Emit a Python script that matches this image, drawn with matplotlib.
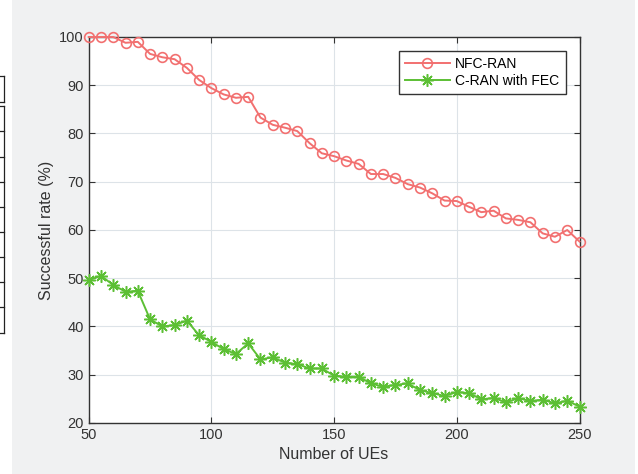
import matplotlib.pyplot as plt
from matplotlib.lines import Line2D

plt.rcParams['font.family'] = ['Liberation Sans', 'DejaVu Sans']

ues = list(range(50, 251, 5))
nfc_ran = [100, 100, 100, 98.8, 99.0, 96.5, 95.8, 95.4, 93.6, 91.1,
           89.4, 88.1, 87.4, 87.6, 83.3, 81.8, 81.2, 80.5, 78.0, 75.9,
           75.3, 74.4, 73.7, 71.6, 71.6, 70.8, 69.5, 68.8, 67.6, 66.1,
           66.0, 64.8, 63.7, 64.0, 62.4, 62.1, 61.6, 59.3, 58.6, 60.0, 57.6]
cran_fec = [49.6, 50.5, 48.6, 47.2, 47.4, 41.5, 40.0, 40.3, 41.2, 38.2,
            36.8, 35.3, 34.3, 36.5, 33.2, 33.6, 32.5, 32.2, 31.3, 31.3,
            29.8, 29.6, 29.6, 28.2, 27.5, 27.9, 28.2, 26.8, 26.2, 25.6,
            26.4, 26.2, 24.9, 25.2, 24.3, 25.1, 24.6, 24.8, 24.1, 24.6, 23.4]

fig = plt.figure(figsize=(6.38, 4.74), dpi=100)
fig.patch.set_facecolor('white')

# grey MATLAB figure background
bg = plt.Rectangle((12 / 638, 0), 623 / 638, 1, transform=fig.transFigure,
                   facecolor='#f0f1f2', edgecolor='none', zorder=-10)
fig.add_artist(bg)

# stray table lines at the left edge
for yp in [76, 102, 106, 131, 157, 182, 207, 232, 257, 282, 307, 333]:
    fig.add_artist(Line2D([0, 4 / 638], [1 - yp / 474] * 2, color='#222222', lw=0.9))
fig.add_artist(Line2D([4 / 638] * 2, [1 - 76 / 474, 1 - 102 / 474], color='#222222', lw=0.9))
fig.add_artist(Line2D([4 / 638] * 2, [1 - 106 / 474, 1 - 333 / 474], color='#222222', lw=0.9))

ax = fig.add_axes([88.7 / 638, 1 - 423 / 474, 490.8 / 638, 386 / 474])
ax.set_facecolor('white')

ax.plot(ues, nfc_ran, color='#f27070', marker='o', markersize=7,
        markerfacecolor='none', markeredgewidth=1.2, lw=1.4,
        label='NFC-RAN', clip_on=False, zorder=3)
ax.plot(ues, cran_fec, color='#5cbf34', marker=(8, 2, 0), markersize=9,
        markeredgewidth=1.1, lw=1.4, label='C-RAN with FEC',
        clip_on=False, zorder=3)

ax.set_xlim(50, 250)
ax.set_ylim(20, 100)
ax.set_xticks([50, 100, 150, 200, 250])
ax.set_yticks(range(20, 101, 10))
ax.grid(True, color='#dde3e8', lw=0.8)
ax.set_axisbelow(True)
ax.tick_params(direction='in', top=True, right=True, labelsize=10.5,
               colors='#333333', length=4)
for s in ax.spines.values():
    s.set_color('#333333')
    s.set_linewidth(1.0)

ax.set_xlabel('Number of UEs', fontsize=11.5, color='#333333')
ax.set_ylabel('Successful rate (%)', fontsize=11.5, color='#333333')

leg = ax.legend(loc='upper right', fontsize=10, fancybox=False,
                framealpha=1, edgecolor='#333333', handlelength=3.2,
                handletextpad=0.4, labelspacing=0.2, borderpad=0.45,
                borderaxespad=1.0)
leg.get_frame().set_linewidth(1.0)
leg.set_zorder(5)

fig.savefig('out.png', dpi=100)
